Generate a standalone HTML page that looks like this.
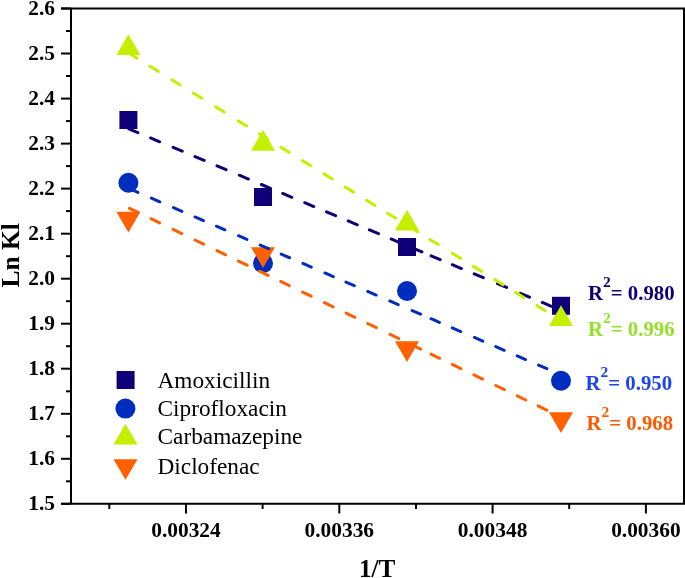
<!DOCTYPE html>
<html><head><meta charset="utf-8"><style>
html,body{margin:0;padding:0;background:#fff;width:685px;height:578px;overflow:hidden;}
svg{display:block;position:absolute;left:0;top:0;will-change:transform;}
text{font-family:"Liberation Serif",serif;}
</style></head><body>
<svg width="685" height="578" viewBox="0 0 685 578">
<g stroke="#000" stroke-width="2" fill="none" stroke-linecap="butt">
<path d="M61 8.5H684V503.83H61M71 7.5V504.83"/>
<path d="M61 8.5H71"/>
<path d="M66 31.0H71"/>
<path d="M61 53.5H71"/>
<path d="M66 76.0H71"/>
<path d="M61 98.6H71"/>
<path d="M66 121.1H71"/>
<path d="M61 143.6H71"/>
<path d="M66 166.1H71"/>
<path d="M61 188.6H71"/>
<path d="M66 211.1H71"/>
<path d="M61 233.7H71"/>
<path d="M66 256.2H71"/>
<path d="M61 278.7H71"/>
<path d="M66 301.2H71"/>
<path d="M61 323.7H71"/>
<path d="M66 346.2H71"/>
<path d="M61 368.7H71"/>
<path d="M66 391.3H71"/>
<path d="M61 413.8H71"/>
<path d="M66 436.3H71"/>
<path d="M61 458.8H71"/>
<path d="M66 481.3H71"/>
<path d="M61 503.8H71"/>
<path d="M186.0 503.83V513.5"/>
<path d="M109.3 503.83V509"/>
<path d="M339.3 503.83V513.5"/>
<path d="M262.6 503.83V509"/>
<path d="M492.6 503.83V513.5"/>
<path d="M416.0 503.83V509"/>
<path d="M645.9 503.83V513.5"/>
<path d="M569.2 503.83V509"/>
</g>
<g font-family="Liberation Serif" font-weight="bold" font-size="21.4" fill="#000">
<text x="55" y="14.9" text-anchor="end">2.6</text>
<text x="55" y="59.9" text-anchor="end">2.5</text>
<text x="55" y="105.0" text-anchor="end">2.4</text>
<text x="55" y="150.0" text-anchor="end">2.3</text>
<text x="55" y="195.0" text-anchor="end">2.2</text>
<text x="55" y="240.1" text-anchor="end">2.1</text>
<text x="55" y="285.1" text-anchor="end">2.0</text>
<text x="55" y="330.1" text-anchor="end">1.9</text>
<text x="55" y="375.1" text-anchor="end">1.8</text>
<text x="55" y="420.2" text-anchor="end">1.7</text>
<text x="55" y="465.2" text-anchor="end">1.6</text>
<text x="55" y="510.2" text-anchor="end">1.5</text>
<text x="186.0" y="537" text-anchor="middle">0.00324</text>
<text x="339.3" y="537" text-anchor="middle">0.00336</text>
<text x="492.6" y="537" text-anchor="middle">0.00348</text>
<text x="645.9" y="537" text-anchor="middle">0.00360</text>
</g>
<text x="377.1" y="577" font-family="Liberation Serif" font-weight="bold" font-size="25.2" text-anchor="middle">1/T</text>
<text transform="translate(18.6 255.3) rotate(-90)" font-family="Liberation Serif" font-weight="bold" font-size="25.5" text-anchor="middle">Ln Kl</text>
<rect x="119.4" y="111.0" width="18" height="18" fill="#100078"/>
<rect x="254.0" y="188.0" width="18" height="18" fill="#100078"/>
<rect x="398.0" y="238.0" width="18" height="18" fill="#100078"/>
<rect x="552.0" y="296.8" width="18" height="18" fill="#100078"/>
<circle cx="128.4" cy="182.7" r="10" fill="#002dbe"/>
<circle cx="263.0" cy="263.3" r="10" fill="#002dbe"/>
<circle cx="407.0" cy="291.0" r="10" fill="#002dbe"/>
<circle cx="561.0" cy="380.7" r="10" fill="#002dbe"/>
<path d="M128.4 34.3L140.4 55.1H116.4Z" fill="#c4f000"/>
<path d="M263.0 129.9L275.0 150.7H251.0Z" fill="#c4f000"/>
<path d="M407.0 209.7L419.0 230.5H395.0Z" fill="#c4f000"/>
<path d="M561.0 305.3L573.0 326.1H549.0Z" fill="#c4f000"/>
<path d="M128.4 232.6L140.4 211.8H116.4Z" fill="#ff6100"/>
<path d="M263.0 268.0L275.0 247.2H251.0Z" fill="#ff6100"/>
<path d="M407.0 362.1L419.0 341.3H395.0Z" fill="#ff6100"/>
<path d="M561.0 433.1L573.0 412.3H549.0Z" fill="#ff6100"/>
<path d="M128.80 128.80L137.90 132.62M150.60 137.95L159.70 141.78M173.10 147.41L182.20 151.23M195.00 156.60L204.10 160.43M217.00 165.85L226.10 169.67M239.30 175.21L248.40 179.04M261.40 184.50L270.50 188.32M282.70 193.44L291.80 197.27M304.70 202.68L313.80 206.51M326.50 211.84L335.60 215.66M348.20 220.96L357.30 224.78M369.40 229.86L378.50 233.69M391.10 238.98L400.20 242.80M412.80 248.09L421.90 251.92M431.10 255.78L440.20 259.60M452.30 264.69L461.40 268.51M474.20 273.89L483.30 277.71M497.50 283.67L506.60 287.49M520.40 293.29L529.50 297.11M542.30 302.49L551.40 306.31" stroke="#100078" stroke-width="3" stroke-linecap="round" fill="none"/>
<path d="M129.50 188.71L137.90 192.33M151.40 198.15L159.80 201.78M173.50 207.68L181.90 211.31M195.00 216.96L203.40 220.58M216.40 226.19L224.80 229.81M238.50 235.72L246.90 239.34M260.20 245.07L268.60 248.70M281.20 254.13L289.60 257.75M302.90 263.49L311.30 267.11M324.90 272.98L333.30 276.60M345.90 282.03L354.30 285.66M367.70 291.44L376.10 295.06M389.80 300.97L398.20 304.59M412.10 310.58L420.50 314.21M431.00 318.73L439.40 322.36M452.30 327.92L460.70 331.54M474.40 337.45L482.80 341.07M495.80 346.68L504.20 350.30M517.20 355.91L525.60 359.53M538.50 365.10L546.90 368.72M560.00 374.37L561.00 374.80" stroke="#002dbe" stroke-width="3" stroke-linecap="round" fill="none"/>
<path d="M128.70 53.07L137.00 58.20M150.00 66.24L158.30 71.38M171.90 79.79L180.20 84.93M193.50 93.16L201.80 98.29M215.80 106.95L224.10 112.09M238.30 120.87L246.60 126.01M259.30 133.87L267.60 139.00M280.90 147.23L289.20 152.36M302.40 160.53L310.70 165.67M324.00 173.89L332.30 179.03M345.20 187.01L353.50 192.14M366.60 200.25L374.90 205.38M387.50 213.18L395.80 218.31M409.50 226.79L417.80 231.93M429.90 239.41L438.20 244.55M452.30 253.27L460.60 258.40M473.50 266.39L481.80 271.52M494.70 279.50L503.00 284.64M515.70 292.49L524.00 297.63M536.80 305.55L545.10 310.68M558.50 318.97L561.00 320.52" stroke="#c4f000" stroke-width="3" stroke-linecap="round" fill="none"/>
<path d="M129.50 208.31L138.10 212.47M151.00 218.71L159.60 222.87M173.10 229.40L181.70 233.56M195.00 239.99L203.60 244.15M217.00 250.63L225.60 254.79M238.50 261.03L247.10 265.19M259.50 271.19L268.10 275.35M280.70 281.44L289.30 285.60M302.60 292.03L311.20 296.19M324.50 302.63L333.10 306.79M346.20 313.12L354.80 317.28M367.70 323.52L376.30 327.68M390.10 334.35L398.70 338.51M412.10 344.99L420.70 349.15M431.00 354.13L439.60 358.29M452.30 364.44L460.90 368.60M473.90 374.88L482.50 379.04M495.80 385.48L504.40 389.63M517.20 395.83L525.80 399.99M538.10 405.93L546.70 410.09M559.70 416.38L561.00 417.01" stroke="#ff6100" stroke-width="3" stroke-linecap="round" fill="none"/>
<rect x="116.6" y="371.0" width="18" height="18" fill="#100078"/>
<circle cx="125.4" cy="408.6" r="10" fill="#002dbe"/>
<path d="M125.5 423.8L137.5 444.6H113.5Z" fill="#c4f000"/>
<path d="M125.5 479.8L137.5 459.2H113.5Z" fill="#ff6100"/>
<g font-family="Liberation Serif" font-size="23.3" fill="#000">
<text x="157.5" y="387.7">Amoxicillin</text>
<text x="157.5" y="415.9">Ciprofloxacin</text>
<text x="157.5" y="444.4">Carbamazepine</text>
<text x="157.5" y="473.6">Diclofenac</text>
</g>
<g font-family="Liberation Serif" font-weight="bold" font-size="20.8">
<text x="588" y="300.2" fill="#100078">R<tspan font-size="15.5" dy="-13">2</tspan><tspan dy="13">= 0.980</tspan></text>
<text x="588" y="336.3" fill="#94e128">R<tspan font-size="15.5" dy="-13">2</tspan><tspan dy="13">= 0.996</tspan></text>
<text x="585.5" y="389.9" fill="#1a44ee">R<tspan font-size="15.5" dy="-13">2</tspan><tspan dy="13">= 0.950</tspan></text>
<text x="586.5" y="430.2" fill="#ff5a00">R<tspan font-size="15.5" dy="-13">2</tspan><tspan dy="13">= 0.968</tspan></text>
</g>
</svg>
</body></html>
